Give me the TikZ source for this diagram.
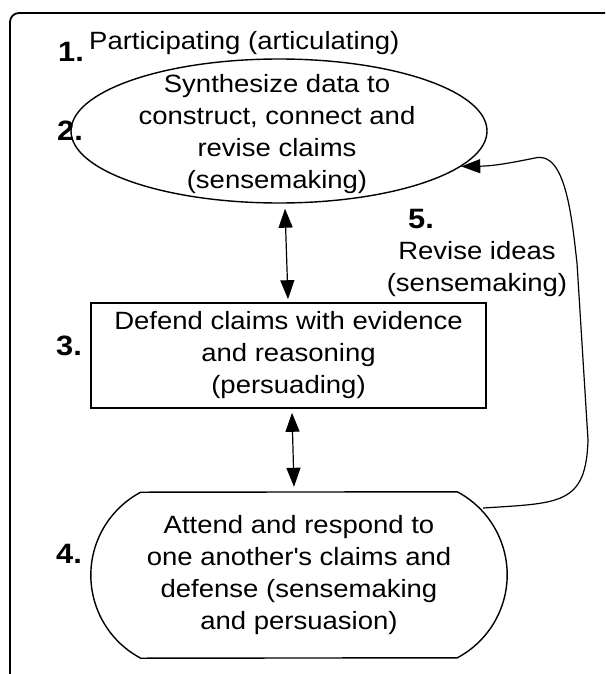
\documentclass[tikz,border=0pt]{standalone}
\usepackage{fontspec}
\setmainfont{Liberation Sans}[FakeStretch=1.1]
\usetikzlibrary{arrows.meta,shapes.geometric,calc}

\begin{document}
\begin{tikzpicture}[x=1pt,y=-1pt,
  txt/.style={font=\fontsize{25}{32}\selectfont, align=center, inner sep=0pt},
  num/.style={font=\fontsize{28}{30}\selectfont\bfseries, inner sep=0pt, anchor=base west},
  tip/.style={-{Triangle[length=19pt,width=14pt]}, line width=1.2pt},
  dbl/.style={{Triangle[length=19pt,width=14pt]}-{Triangle[length=19pt,width=14pt]}, line width=1.2pt},
]
\useasboundingbox (0,0) rectangle (605,674);

% outer frame, running off the page on the right and bottom
\begin{scope}
  \clip (0,0) rectangle (605,674);
  \draw[line width=1.8pt, rounded corners=9pt] (10,13) rectangle (625,690);
\end{scope}

% step 1
\node[num] (n1) at (58,62) {1.};
\node[txt, anchor=base west] (part) at (89,50) {Participating (articulating)};

% step 2: ellipse
\node[draw, line width=1.4pt, ellipse, minimum width=416pt, minimum height=144pt, inner sep=0pt] (ell) at (279,131) {};
\node[txt] (ellt) at (277,134.5) {Synthesize data to\\construct, connect and\\revise claims\\(sensemaking)};
\node[num] (n2) at (57,140) {2.};

% step 3: box
\node[txt, draw, line width=1.6pt, minimum width=395pt, minimum height=105pt] (dfd) at (288.5,355.5)
  {Defend claims with evidence\\and reasoning\\(persuading)};
\node[num] (n3) at (56,355) {3.};

% step 4: rounded terminal
\node[txt, minimum width=416pt, minimum height=166pt] (att) at (299,575)
  {Attend and respond to\\one another\textquotesingle s claims and\\defense (sensemaking\\and persuasion)};
\draw[line width=1.4pt]
  ($(att.north east)+(-49.9,0)$) arc[start angle=62, end angle=-62, radius=94pt]
  -- ($(att.south west)+(49.9,0)$) arc[start angle=242, end angle=118, radius=94pt]
  -- cycle;
\node[num] (n4) at (56,563) {4.};

% step 5
\node[num] (n5) at (408,228) {5.};
\node[txt] (rev) at (477,269) {Revise ideas\\(sensemaking)};

% connectors
\draw[dbl] ($(ell.south)+(6,5)$) -- ($(dfd.north)+(-0.5,-3)$);
\draw[dbl] ($(dfd.south)+(3.5,4)$) -- ($(att.north)+(-5,-5)$);
\coordinate (att-ne) at ($(att.east)+(-24,-67)$);
\draw[tip] (att-ne) .. controls (560,503) and (586,505) .. (588,440)
  -- (577,263)
  .. controls (572,220) and (566,150) .. (535,158)
  .. controls (515,162) and (495,166) .. (ell.-11);
\end{tikzpicture}
\end{document}
